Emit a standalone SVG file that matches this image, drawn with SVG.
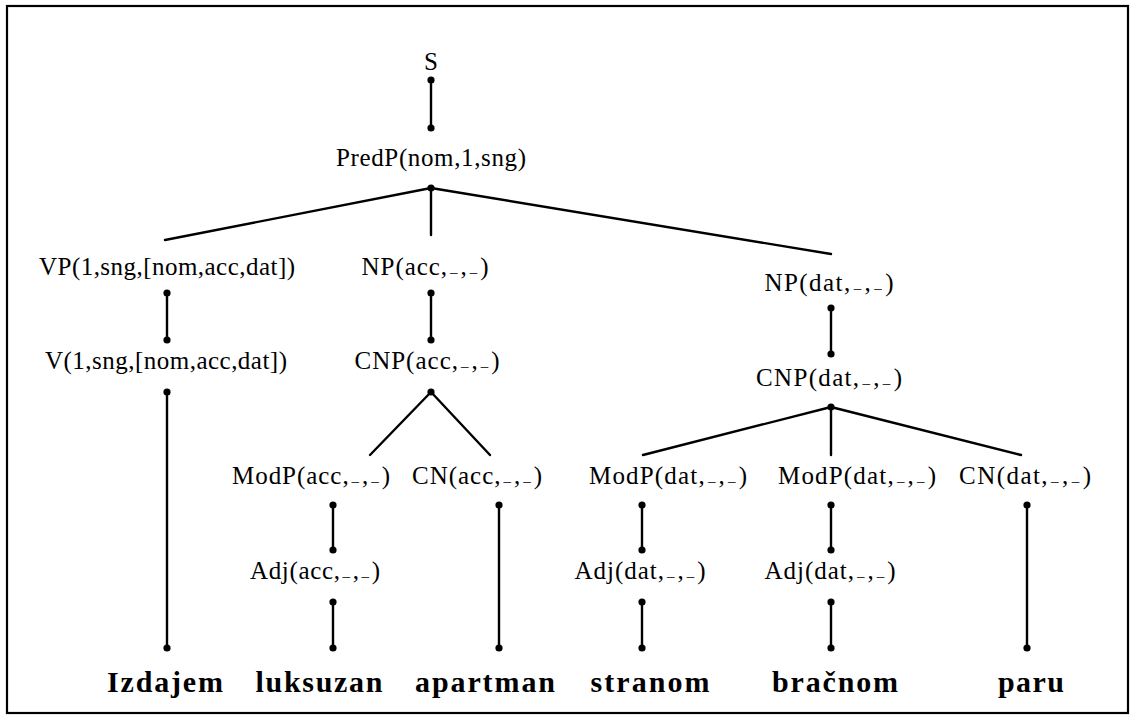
<svg xmlns="http://www.w3.org/2000/svg" width="1136" height="721" viewBox="0 0 1136 721">
<style>
.t{font-family:"Liberation Serif","Times New Roman",serif;font-size:25px;fill:#000;text-anchor:middle}
.w{font-family:"Liberation Serif","Times New Roman",serif;font-size:30px;font-weight:bold;fill:#000;text-anchor:middle}
.u{font-size:15px;baseline-shift:3px}
.e{stroke:#000;stroke-width:2.4;fill:none;stroke-linecap:round}
.d{fill:#000}
</style>
<rect x="7" y="6" width="1121" height="707" fill="#fff" stroke="#000" stroke-width="2.2"/>
<g id="connectors">
<g class="e">
<line x1="431" y1="80" x2="431" y2="128"/>
<line x1="431" y1="188" x2="165" y2="240"/>
<line x1="431" y1="188" x2="431" y2="235"/>
<line x1="431" y1="188" x2="831" y2="254"/>
<line x1="167" y1="293" x2="167" y2="340"/>
<line x1="431" y1="293" x2="431" y2="340"/>
<line x1="831" y1="308" x2="831" y2="354"/>
<line x1="167" y1="392" x2="167" y2="648"/>
<line x1="431" y1="392" x2="370" y2="455"/>
<line x1="431" y1="392" x2="490" y2="455"/>
<line x1="831" y1="407" x2="643" y2="455"/>
<line x1="831" y1="407" x2="831" y2="455"/>
<line x1="831" y1="407" x2="1021" y2="455"/>
<line x1="333" y1="505" x2="333" y2="550"/>
<line x1="499" y1="505" x2="499" y2="648"/>
<line x1="642" y1="505" x2="642" y2="550"/>
<line x1="831" y1="505" x2="831" y2="550"/>
<line x1="1027" y1="505" x2="1027" y2="648"/>
<line x1="333" y1="602" x2="333" y2="648"/>
<line x1="642" y1="602" x2="642" y2="648"/>
<line x1="831" y1="602" x2="831" y2="648"/>
</g>
<g class="d">
<circle cx="431" cy="80" r="3.6"/><circle cx="431" cy="128" r="3.6"/>
<circle cx="431" cy="188" r="3.6"/>
<circle cx="167" cy="293" r="3.6"/><circle cx="167" cy="340" r="3.6"/>
<circle cx="431" cy="293" r="3.6"/><circle cx="431" cy="340" r="3.6"/>
<circle cx="831" cy="308" r="3.6"/><circle cx="831" cy="354" r="3.6"/>
<circle cx="167" cy="392" r="3.6"/><circle cx="167" cy="648" r="3.6"/>
<circle cx="431" cy="392" r="3.6"/>
<circle cx="831" cy="407" r="3.6"/>
<circle cx="333" cy="505" r="3.6"/><circle cx="333" cy="550" r="3.6"/>
<circle cx="499" cy="505" r="3.6"/><circle cx="499" cy="648" r="3.6"/>
<circle cx="642" cy="505" r="3.6"/><circle cx="642" cy="550" r="3.6"/>
<circle cx="831" cy="505" r="3.6"/><circle cx="831" cy="550" r="3.6"/>
<circle cx="1027" cy="505" r="3.6"/><circle cx="1027" cy="648" r="3.6"/>
<circle cx="333" cy="602" r="3.6"/><circle cx="333" cy="648" r="3.6"/>
<circle cx="642" cy="602" r="3.6"/><circle cx="642" cy="648" r="3.6"/>
<circle cx="831" cy="602" r="3.6"/><circle cx="831" cy="648" r="3.6"/>
</g>
</g>
<g id="n-S"><text class="t" x="431" y="70">S</text></g>
<g id="n-PredP"><text class="t" x="431" y="166" textLength="190">PredP(nom,1,sng)</text></g>
<g id="n-VP"><text class="t" x="167" y="275" textLength="256">VP(1,sng,[nom,acc,dat])</text></g>
<g id="n-NPacc"><text class="t" x="425" y="275" textLength="127">NP(acc,<tspan class="u" dx="2">_</tspan><tspan dx="2">,</tspan><tspan class="u" dx="2">_</tspan><tspan dx="2">)</tspan></text></g>
<g id="n-NPdat"><text class="t" x="829" y="291" textLength="129">NP(dat,<tspan class="u" dx="2">_</tspan><tspan dx="2">,</tspan><tspan class="u" dx="2">_</tspan><tspan dx="2">)</tspan></text></g>
<g id="n-V"><text class="t" x="166" y="369" textLength="242">V(1,sng,[nom,acc,dat])</text></g>
<g id="n-CNPacc"><text class="t" x="427" y="369" textLength="145">CNP(acc,<tspan class="u" dx="2">_</tspan><tspan dx="2">,</tspan><tspan class="u" dx="2">_</tspan><tspan dx="2">)</tspan></text></g>
<g id="n-CNPdat"><text class="t" x="829" y="386" textLength="146">CNP(dat,<tspan class="u" dx="2">_</tspan><tspan dx="2">,</tspan><tspan class="u" dx="2">_</tspan><tspan dx="2">)</tspan></text></g>
<g id="n-ModPacc"><text class="t" x="311" y="484" textLength="158">ModP(acc,<tspan class="u" dx="2">_</tspan><tspan dx="2">,</tspan><tspan class="u" dx="2">_</tspan><tspan dx="2">)</tspan></text></g>
<g id="n-CNacc"><text class="t" x="477" y="484" textLength="130">CN(acc,<tspan class="u" dx="2">_</tspan><tspan dx="2">,</tspan><tspan class="u" dx="2">_</tspan><tspan dx="2">)</tspan></text></g>
<g id="n-ModPdat1"><text class="t" x="668" y="484" textLength="158">ModP(dat,<tspan class="u" dx="2">_</tspan><tspan dx="2">,</tspan><tspan class="u" dx="2">_</tspan><tspan dx="2">)</tspan></text></g>
<g id="n-ModPdat2"><text class="t" x="857" y="484" textLength="158">ModP(dat,<tspan class="u" dx="2">_</tspan><tspan dx="2">,</tspan><tspan class="u" dx="2">_</tspan><tspan dx="2">)</tspan></text></g>
<g id="n-CNdat"><text class="t" x="1025" y="484" textLength="132">CN(dat,<tspan class="u" dx="2">_</tspan><tspan dx="2">,</tspan><tspan class="u" dx="2">_</tspan><tspan dx="2">)</tspan></text></g>
<g id="n-Adjacc"><text class="t" x="315" y="579" textLength="130">Adj(acc,<tspan class="u" dx="2">_</tspan><tspan dx="2">,</tspan><tspan class="u" dx="2">_</tspan><tspan dx="2">)</tspan></text></g>
<g id="n-Adjdat1"><text class="t" x="640" y="579" textLength="131">Adj(dat,<tspan class="u" dx="2">_</tspan><tspan dx="2">,</tspan><tspan class="u" dx="2">_</tspan><tspan dx="2">)</tspan></text></g>
<g id="n-Adjdat2"><text class="t" x="830" y="579" textLength="131">Adj(dat,<tspan class="u" dx="2">_</tspan><tspan dx="2">,</tspan><tspan class="u" dx="2">_</tspan><tspan dx="2">)</tspan></text></g>
<g id="w-Izdajem"><text class="w" x="165" y="692" textLength="116">Izdajem</text></g>
<g id="w-luksuzan"><text class="w" x="319" y="692" textLength="127">luksuzan</text></g>
<g id="w-apartman"><text class="w" x="485" y="692" textLength="140">apartman</text></g>
<g id="w-stranom"><text class="w" x="650" y="692" textLength="119">stranom</text></g>
<g id="w-bracnom"><text class="w" x="835" y="692" textLength="126">bračnom</text></g>
<g id="w-paru"><text class="w" x="1031" y="692" textLength="66">paru</text></g>
</svg>
